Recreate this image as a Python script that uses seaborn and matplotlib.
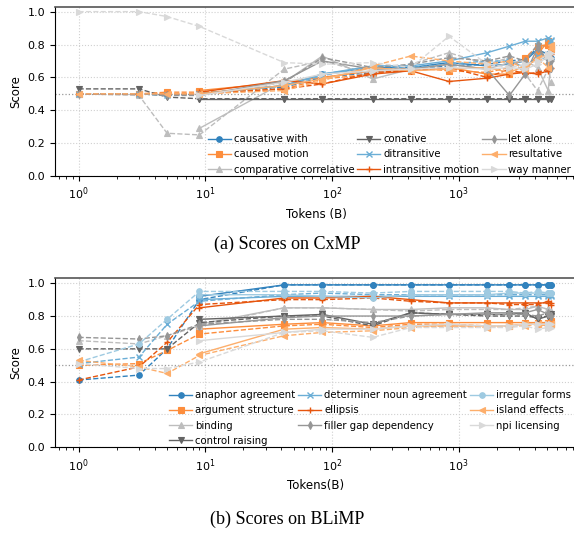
import matplotlib
matplotlib.use('Agg')
import matplotlib.pyplot as plt
import seaborn as sns
import numpy as np
import pandas as pd

# token counts (B) for the two runs: dashed run starts at 1B, solid run at 9B
tokens_dashed = [1, 3, 5, 9, 42, 84, 210, 420, 840, 1680, 2520, 3360, 4200, 5100, 5400]
tokens_solid = [9, 42, 84, 210, 420, 840, 1680, 2520, 3360, 4200, 5100, 5400]

# ---------------- CxMP ----------------
cxmp_names = ['causative with', 'caused motion', 'comparative correlative',
              'conative', 'ditransitive', 'intransitive motion',
              'let alone', 'resultative', 'way manner']
cxmp_colors = ['#3182bd', '#fd8d3c', '#bdbdbd', '#636363', '#6baed6',
               '#e6550d', '#969696', '#fdae6b', '#d9d9d9']
cxmp_markers = ['o', 's', '^', 'v', 'x', '+', 'd', '<', '>']

cxmp_dashed = [
    [0.50, 0.50, 0.49, 0.50, 0.54, 0.60, 0.63, 0.65, 0.67, 0.68, 0.70, 0.71, 0.78, 0.80, 0.80],
    [0.50, 0.50, 0.51, 0.51, 0.53, 0.59, 0.62, 0.66, 0.64, 0.63, 0.66, 0.72, 0.79, 0.80, 0.77],
    [0.50, 0.49, 0.26, 0.25, 0.65, 0.70, 0.62, 0.68, 0.75, 0.68, 0.72, 0.62, 0.52, 0.65, 0.57],
    [0.53, 0.53, 0.48, 0.47, 0.47, 0.47, 0.47, 0.47, 0.47, 0.47, 0.47, 0.47, 0.47, 0.47, 0.47],
    [0.50, 0.50, 0.49, 0.50, 0.55, 0.61, 0.67, 0.66, 0.68, 0.70, 0.70, 0.66, 0.73, 0.70, 0.82],
    [0.50, 0.50, 0.50, 0.50, 0.53, 0.56, 0.63, 0.64, 0.66, 0.60, 0.65, 0.62, 0.63, 0.65, 0.74],
    [0.50, 0.50, 0.49, 0.49, 0.57, 0.72, 0.66, 0.68, 0.72, 0.70, 0.73, 0.70, 0.80, 0.69, 0.66],
    [0.50, 0.50, 0.50, 0.50, 0.52, 0.58, 0.67, 0.73, 0.70, 0.68, 0.70, 0.65, 0.72, 0.66, 0.80],
    [1.00, 1.00, 0.97, 0.91, 0.69, 0.68, 0.69, 0.66, 0.85, 0.68, 0.66, 0.68, 0.70, 0.74, 0.72],
]
cxmp_solid = [
    [0.50, 0.55, 0.62, 0.66, 0.66, 0.69, 0.67, 0.68, 0.70, 0.77, 0.74, 0.72],
    [0.52, 0.57, 0.60, 0.64, 0.64, 0.66, 0.62, 0.62, 0.64, 0.74, 0.82, 0.79],
    [0.29, 0.57, 0.73, 0.59, 0.65, 0.68, 0.65, 0.69, 0.70, 0.66, 0.52, 0.72],
    [0.47, 0.47, 0.47, 0.47, 0.47, 0.47, 0.47, 0.47, 0.47, 0.47, 0.47, 0.47],
    [0.50, 0.55, 0.62, 0.67, 0.67, 0.70, 0.75, 0.79, 0.82, 0.82, 0.84, 0.83],
    [0.51, 0.58, 0.56, 0.62, 0.64, 0.575, 0.595, 0.62, 0.63, 0.62, 0.64, 0.66],
    [0.49, 0.58, 0.70, 0.65, 0.65, 0.68, 0.65, 0.49, 0.62, 0.78, 0.69, 0.70],
    [0.50, 0.55, 0.59, 0.66, 0.64, 0.65, 0.66, 0.63, 0.67, 0.71, 0.74, 0.78],
    [0.49, 0.57, 0.62, 0.64, 0.65, 0.66, 0.65, 0.66, 0.65, 0.68, 0.73, 0.75],
]

# ---------------- BLiMP ----------------
blimp_names = ['anaphor agreement', 'argument structure', 'binding',
               'control raising', 'determiner noun agreement', 'ellipsis',
               'filler gap dependency', 'irregular forms', 'island effects',
               'npi licensing']
blimp_colors = ['#3182bd', '#fd8d3c', '#bdbdbd', '#636363', '#6baed6',
                '#e6550d', '#969696', '#9ecae1', '#fdae6b', '#d9d9d9']
blimp_markers = ['o', 's', '^', 'v', 'x', '+', 'd', 'o', '<', '>']

blimp_dashed = [
    [0.41, 0.44, 0.60, 0.90, 0.99, 0.99, 0.99, 0.99, 0.99, 0.99, 0.99, 0.99, 0.99, 0.99, 0.99],
    [0.50, 0.51, 0.59, 0.69, 0.74, 0.75, 0.73, 0.75, 0.75, 0.74, 0.74, 0.75, 0.75, 0.75, 0.75],
    [0.65, 0.63, 0.68, 0.74, 0.85, 0.85, 0.84, 0.83, 0.84, 0.84, 0.84, 0.85, 0.86, 0.84, 0.83],
    [0.60, 0.60, 0.60, 0.76, 0.80, 0.80, 0.74, 0.82, 0.81, 0.80, 0.80, 0.80, 0.79, 0.80, 0.81],
    [0.51, 0.55, 0.75, 0.89, 0.93, 0.94, 0.93, 0.93, 0.93, 0.93, 0.93, 0.93, 0.93, 0.93, 0.93],
    [0.41, 0.49, 0.64, 0.87, 0.90, 0.90, 0.91, 0.89, 0.88, 0.88, 0.87, 0.87, 0.87, 0.89, 0.87],
    [0.67, 0.66, 0.68, 0.75, 0.78, 0.78, 0.76, 0.80, 0.81, 0.81, 0.81, 0.81, 0.80, 0.82, 0.80],
    [0.52, 0.63, 0.78, 0.95, 0.95, 0.95, 0.94, 0.95, 0.95, 0.95, 0.95, 0.94, 0.95, 0.94, 0.94],
    [0.53, 0.49, 0.45, 0.56, 0.68, 0.70, 0.71, 0.73, 0.74, 0.73, 0.74, 0.74, 0.75, 0.74, 0.75],
    [0.51, 0.48, 0.48, 0.52, 0.70, 0.71, 0.67, 0.73, 0.73, 0.73, 0.73, 0.74, 0.72, 0.73, 0.73],
]
blimp_solid = [
    [0.92, 0.99, 0.99, 0.99, 0.99, 0.99, 0.99, 0.99, 0.99, 0.99, 0.99, 0.99],
    [0.72, 0.75, 0.76, 0.74, 0.76, 0.76, 0.76, 0.76, 0.76, 0.76, 0.76, 0.77],
    [0.75, 0.85, 0.85, 0.84, 0.84, 0.85, 0.85, 0.84, 0.84, 0.86, 0.84, 0.82],
    [0.78, 0.80, 0.81, 0.75, 0.82, 0.81, 0.81, 0.81, 0.82, 0.78, 0.80, 0.80],
    [0.90, 0.92, 0.92, 0.92, 0.92, 0.92, 0.92, 0.92, 0.92, 0.92, 0.92, 0.92],
    [0.85, 0.91, 0.91, 0.92, 0.90, 0.88, 0.88, 0.88, 0.88, 0.88, 0.88, 0.88],
    [0.74, 0.79, 0.80, 0.80, 0.80, 0.81, 0.82, 0.82, 0.82, 0.84, 0.81, 0.80],
    [0.93, 0.93, 0.92, 0.91, 0.93, 0.93, 0.93, 0.94, 0.94, 0.94, 0.94, 0.94],
    [0.57, 0.72, 0.73, 0.72, 0.74, 0.74, 0.74, 0.74, 0.75, 0.75, 0.74, 0.75],
    [0.65, 0.70, 0.72, 0.72, 0.74, 0.75, 0.74, 0.74, 0.75, 0.75, 0.75, 0.75],
]


def draw(ax, names, colors, markers, dashed, solid, xlabel):
    for name, c, m, yd, ys in zip(names, colors, markers, dashed, solid):
        mew = 1.0 if m in ('x', '+') else 0.8
        sns.lineplot(x=tokens_dashed, y=yd, ax=ax, color=c, marker=m,
                     linestyle='--', linewidth=1.0, markersize=4,
                     markeredgecolor=c, markeredgewidth=mew, legend=False)
        sns.lineplot(x=tokens_solid, y=ys, ax=ax, color=c, marker=m,
                     linestyle='-', linewidth=1.0, markersize=4,
                     markeredgecolor=c, markeredgewidth=mew, label=name)
    ax.set_xscale('log')
    ax.set_xlim(10 ** -0.186, 10 ** 3.935)
    ax.set_ylim(0, 1.03)
    ax.set_yticks([0.0, 0.2, 0.4, 0.6, 0.8, 1.0])
    ax.axhline(0.5, color='#999999', linestyle=':', linewidth=0.9, zorder=0)
    ax.grid(True, which='major', linestyle=':', color='#d0d0d0', linewidth=0.8)
    ax.set_axisbelow(True)
    ax.spines['top'].set_color('#555555')
    ax.spines['top'].set_linewidth(1.2)
    ax.tick_params(axis='both', labelsize=8)
    ax.set_xlabel(xlabel, fontsize=8.5)
    ax.set_ylabel('Score', fontsize=8.5)
    ax.legend(ncol=3, loc='lower right', bbox_to_anchor=(0.992, -0.004),
              frameon=False, fontsize=7.3, handlelength=2.3,
              columnspacing=0.3, handletextpad=0.25, labelspacing=0.52,
              borderaxespad=0.0, borderpad=0.2)


W, H = 574, 535
fig = plt.figure(figsize=(W / 100, H / 100), dpi=100)
ax1 = fig.add_axes([55 / W, 1 - 176 / H, 522 / W, 169.3 / H])
ax2 = fig.add_axes([55 / W, 1 - 447.3 / H, 522 / W, 169 / H])

draw(ax1, cxmp_names, cxmp_colors, cxmp_markers, cxmp_dashed, cxmp_solid,
     'Tokens (B)')
draw(ax2, blimp_names, blimp_colors, blimp_markers, blimp_dashed, blimp_solid,
     'Tokens(B)')

fig.text(0.5, 1 - 244 / H, '(a) Scores on CxMP', ha='center', va='center',
         family='Liberation Serif', fontsize=13)
fig.text(0.5, 1 - 519 / H, '(b) Scores on BLiMP', ha='center', va='center',
         family='Liberation Serif', fontsize=13)

fig.savefig('out.png', dpi=100)
